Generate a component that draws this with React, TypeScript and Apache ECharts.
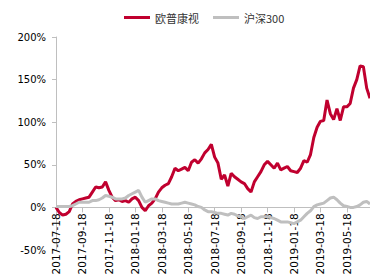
import React, { useEffect, useRef } from "react";
import * as echarts from "echarts";

const categories: string[] = [
  "2017-07-18", "2017-07-26", "2017-08-03", "2017-08-11",
  "2017-08-18", "2017-08-26", "2017-09-03", "2017-09-11",
  "2017-09-18", "2017-09-26", "2017-10-03", "2017-10-11",
  "2017-10-18", "2017-10-26", "2017-11-03", "2017-11-11",
  "2017-11-18", "2017-11-26", "2017-12-03", "2017-12-11",
  "2017-12-18", "2017-12-26", "2018-01-03", "2018-01-11",
  "2018-01-18", "2018-01-26", "2018-02-03", "2018-02-11",
  "2018-02-18", "2018-02-26", "2018-03-03", "2018-03-11",
  "2018-03-18", "2018-03-26", "2018-04-03", "2018-04-11",
  "2018-04-18", "2018-04-26", "2018-05-03", "2018-05-11",
  "2018-05-18", "2018-05-26", "2018-06-03", "2018-06-11",
  "2018-06-18", "2018-06-26", "2018-07-03", "2018-07-11",
  "2018-07-18", "2018-07-26", "2018-08-03", "2018-08-11",
  "2018-08-18", "2018-08-26", "2018-09-03", "2018-09-11",
  "2018-09-18", "2018-09-26", "2018-10-03", "2018-10-11",
  "2018-10-18", "2018-10-26", "2018-11-03", "2018-11-11",
  "2018-11-18", "2018-11-26", "2018-12-03", "2018-12-11",
  "2018-12-18", "2018-12-26", "2019-01-03", "2019-01-11",
  "2019-01-18", "2019-01-26", "2019-02-03", "2019-02-11",
  "2019-02-18", "2019-02-26", "2019-03-03", "2019-03-11",
  "2019-03-18", "2019-03-26", "2019-04-03", "2019-04-11",
  "2019-04-18", "2019-04-26", "2019-05-03", "2019-05-11",
  "2019-05-18", "2019-05-26", "2019-06-03", "2019-06-11",
  "2019-06-18", "2019-06-26", "2019-07-03", "2019-07-11",
];

const oupuValues: number[] = [
  0, -6, -9, -8, -5, 4, 7, 9,
  10, 11, 12, 18, 24, 23, 24, 30,
  20, 12, 8, 9, 7, 8, 6, 10,
  12, 8, 0, -4, 2, 5, 10, 18,
  23, 26, 28, 36, 46, 43, 45, 47,
  43, 53, 56, 52, 57, 64, 68, 74,
  59, 52, 33, 38, 25, 40, 36, 33,
  30, 28, 22, 18, 30, 36, 42, 50,
  54, 50, 46, 52, 44, 46, 48, 43,
  42, 41, 46, 55, 53, 62, 82, 94,
  101, 102, 126, 110, 103, 116, 102, 118,
  118, 122, 140, 150, 166, 165, 140, 128,
];

const hs300Values: number[] = [
  1, 1, 1, 1, 1, 2, 4, 6,
  6, 6, 6, 8, 8, 9, 11, 14,
  13, 12, 10, 10, 10, 11, 14, 16,
  18, 20, 12, 6, 8, 10, 10, 8,
  7, 6, 5, 4, 4, 4, 5, 6,
  5, 4, 3, 1, 0, -3, -5, -5,
  -6, -7, -7, -8, -9, -7, -8, -10,
  -11, -13, -11, -9, -12, -13, -11, -11,
  -11, -12, -13, -15, -17, -17, -17, -18,
  -19, -17, -15, -11, -7, -4, 1, 3,
  4, 5, 8, 11, 12, 9, 5, 2,
  1, 0, 0, 1, 3, 6, 7, 4,
];

const seriesNames: string[] = ["欧普康视", "沪深300"];
const yTicks = { min: -50, max: 200, interval: 50 };

export default function App() {
  const ref = useRef<HTMLDivElement>(null);
  useEffect(() => {
    if (!ref.current) return;
    const chart = echarts.init(ref.current, undefined, { renderer: "svg" });
    const gridTop = 37;
    const gridBottom = 28;
    const plotH = 278 - gridTop - gridBottom;
    const zeroOffset = -(plotH * (0 - yTicks.min)) / (yTicks.max - yTicks.min);
    chart.setOption({
      animation: false,
      backgroundColor: "#ffffff",
      legend: {
        top: 7,
        left: 119,
        itemWidth: 26,
        itemHeight: 3,
        itemGap: 14,
        icon: "rect",
        textStyle: {
          fontFamily: "Noto Sans CJK SC",
          fontSize: 11,
          color: "#333333",
        },
        data: seriesNames,
      },
      grid: {
        left: 56,
        right: 0,
        top: gridTop,
        bottom: gridBottom,
        containLabel: false,
        outerBoundsMode: "none",
      },
      xAxis: {
        type: "category",
        data: categories,
        boundaryGap: false,
        position: "bottom",
        offset: zeroOffset,
        axisLine: { onZero: false, lineStyle: { color: "#bfbfbf", width: 1 } },
        axisTick: { show: true, interval: 7, length: 5, lineStyle: { color: "#bfbfbf" } },
        axisLabel: {
          interval: 7,
          rotate: 90,
          fontSize: 10.5,
          fontFamily: "DejaVu Sans",
          color: "#000000",
          margin: 6,
          hideOverlap: false,
        },
        splitLine: { show: false },
      },
      yAxis: {
        type: "value",
        min: yTicks.min,
        max: yTicks.max,
        interval: yTicks.interval,
        axisLine: { show: true, lineStyle: { color: "#bfbfbf", width: 1 } },
        axisTick: { show: true, length: 4, lineStyle: { color: "#bfbfbf" } },
        axisLabel: {
          formatter: "{value}%",
          fontSize: 10,
          fontFamily: "DejaVu Sans",
          color: "#000000",
          margin: 10,
        },
        splitLine: { show: false },
      },
      series: [
        {
          name: seriesNames[0],
          type: "line",
          data: oupuValues,
          symbol: "none",
          lineStyle: { color: "#c0002f", width: 3 },
          itemStyle: { color: "#c0002f" },
        },
        {
          name: seriesNames[1],
          type: "line",
          data: hs300Values,
          symbol: "none",
          lineStyle: { color: "#bfbfbf", width: 3 },
          itemStyle: { color: "#bfbfbf" },
        },
      ],
    });
    return () => chart.dispose();
  }, []);
  return (
    <div
      ref={ref}
      style={{ position: "fixed", left: 0, top: 0, width: 370, height: 278 }}
    />
  );
}
